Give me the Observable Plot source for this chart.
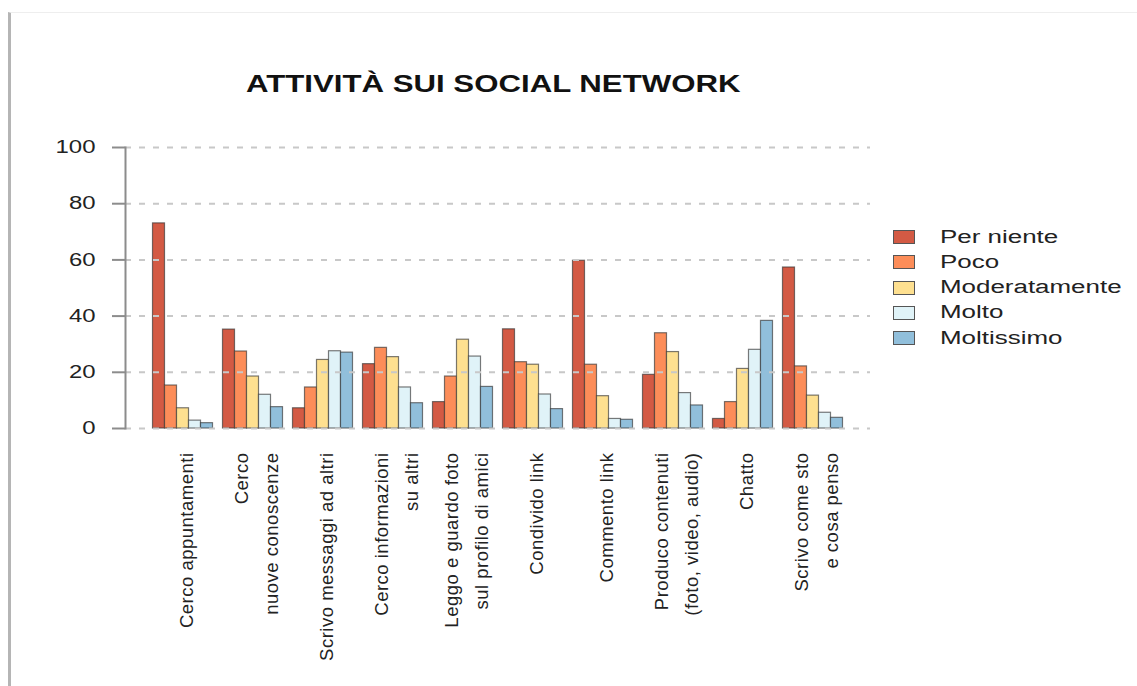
<!DOCTYPE html>
<html>
<head>
<meta charset="utf-8">
<script src="https://cdn.jsdelivr.net/npm/d3@7"></script>
<script src="https://cdn.jsdelivr.net/npm/@observablehq/plot@0.6"></script>
<style>
  html, body { margin: 0; padding: 0; background: #fff; }
  body { width: 1137px; height: 686px; position: relative; overflow: hidden; font-family: "Liberation Sans", Arial, sans-serif; }
  #border { position: absolute; left: 8px; top: 12px; width: 1129px; height: 674px; border-left: 3px solid #b5b5b5; border-top: 1px solid #eeeeee; box-sizing: border-box; }
  #chart { position: absolute; left: 0; top: 0; }
  #title { position: absolute; left: 0; top: 72px; width: 986px; text-align: center; font-weight: bold; font-size: 24px; line-height: 24px; color: #111; }
  #title span { display: inline-block; transform: scaleX(1.3); transform-origin: 50% 50%; }
  .lg-row { position: absolute; left: 893px; height: 25px; display: flex; align-items: center; }
  .lg-sw { width: 20px; height: 12px; border: 1px solid #555; box-sizing: content-box; }
  .lg-tx { position: absolute; left: 47px; font-size: 18px; color: #222; white-space: nowrap; transform: scaleX(1.44); transform-origin: 0 50%; }
  svg [aria-label="y-axis tick label"] { fill: #222; }
  svg [aria-label="text"] text { letter-spacing: 0.5px; }
</style>
</head>
<body>
<div id="border"></div>
<div id="chart"></div>
<div id="title"><span>ATTIVITÀ SUI SOCIAL NETWORK</span></div>
<div id="legend"></div>
<script>
// ---- data ----
const activities = [
  "Cerco appuntamenti",
  "Cerco\nnuove conoscenze",
  "Scrivo messaggi ad altri",
  "Cerco informazioni\nsu altri",
  "Leggo e guardo foto\nsul profilo di amici",
  "Condivido link",
  "Commento link",
  "Produco contenuti\n(foto, video, audio)",
  "Chatto",
  "Scrivo come sto\ne cosa penso"
];
const levels = ["Per niente", "Poco", "Moderatamente", "Molto", "Moltissimo"];
const perNiente     = [73.0, 35.2,  7.2, 22.9,  9.4, 35.3, 59.7, 19.1,  3.4, 57.3];
const poco          = [15.3, 27.4, 14.6, 28.7, 18.5, 23.6, 22.7, 33.9,  9.4, 22.1];
const moderatamente = [ 7.2, 18.5, 24.4, 25.4, 31.6, 22.7, 11.5, 27.2, 21.2, 11.7];
const molto         = [ 2.8, 12.0, 27.5, 14.6, 25.6, 12.1,  3.4, 12.6, 28.0,  5.6];
const moltissimo    = [ 1.9,  7.6, 27.0,  9.0, 14.8,  6.9,  3.1,  8.2, 38.3,  3.8];
const yTicks = [0, 20, 40, 60, 80, 100];
const colors = ["#d35a44", "#fc8d59", "#fee090", "#e0f3f8", "#91bfdb"];

const series = [perNiente, poco, moderatamente, molto, moltissimo];
const table = activities.flatMap((a, i) => levels.map((l, j) => ({activity: a, level: l, value: series[j][i]})));

const barW = 12;
const barMarks = levels.map((l, j) =>
  Plot.barY(table.filter(d => d.level === l), {
    x: "activity", y: "value", fill: "level",
    stroke: "#333", strokeOpacity: 0.65, strokeWidth: 1.2,
    insetLeft: j * barW, insetRight: (levels.length - 1 - j) * barW
  })
);

const chart = Plot.plot({
  width: 1137,
  height: 686,
  marginLeft: 125,
  marginRight: 267,
  marginTop: 147,
  marginBottom: 258,
  style: {fontFamily: "Liberation Sans, Arial, sans-serif", background: "transparent", overflow: "visible"},
  x: {type: "band", domain: activities, paddingInner: 1/7, paddingOuter: 0.3929, round: false, axis: null},
  y: {domain: [0, 100]},
  color: {domain: levels, range: colors},
  marks: [
    ...barMarks,
    Plot.ruleY(yTicks, {stroke: "#c8c8c8", strokeWidth: 2, strokeDasharray: "6,8"}),
    Plot.frame({anchor: "left", stroke: "#8c8c8c", strokeWidth: 2}),
    Plot.axisY({ticks: yTicks, tickSize: 13, tickPadding: 17, fontSize: 18, label: null, color: "#8c8c8c", strokeWidth: 2}),
    Plot.text(activities, {
      x: d => d, text: d => d, frameAnchor: "bottom", dy: 24,
      rotate: -90, textAnchor: "end", lineAnchor: "middle", lineHeight: 1.65,
      fontSize: 18.5, fill: "#222"
    })
  ]
});
document.getElementById("chart").appendChild(chart);

// horizontal stretch of y tick labels (the reference is drawn wide)
chart.querySelectorAll('[aria-label="y-axis tick label"] text').forEach(t => {
  const len = t.getComputedTextLength();
  t.setAttribute("textLength", (len * 1.33).toFixed(1));
  t.setAttribute("lengthAdjust", "spacingAndGlyphs");
});

// legend
const legend = document.getElementById("legend");
levels.forEach((l, j) => {
  const row = document.createElement("div");
  row.className = "lg-row";
  row.style.top = (237 + j * 25.3 - 12.5) + "px";
  const sw = document.createElement("div");
  sw.className = "lg-sw";
  sw.style.background = colors[j];
  const tx = document.createElement("div");
  tx.className = "lg-tx";
  tx.textContent = l;
  row.appendChild(sw);
  row.appendChild(tx);
  legend.appendChild(row);
});
</script>
</body>
</html>
